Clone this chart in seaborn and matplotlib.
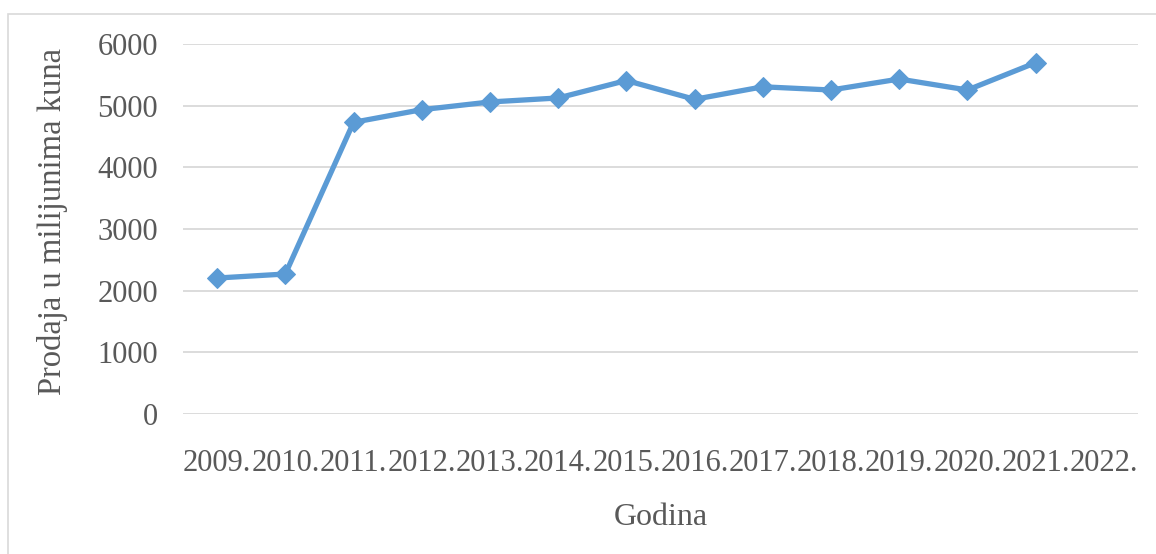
import numpy as np
import matplotlib
matplotlib.use("Agg")
import matplotlib.pyplot as plt
import seaborn as sns
from matplotlib.patches import Rectangle

years = ["2009.", "2010.", "2011.", "2012.", "2013.", "2014.", "2015.",
         "2016.", "2017.", "2018.", "2019.", "2020.", "2021.", "2022."]
sales = [2205, 2270, 4730, 4935, 5060, 5125, 5408, 5103, 5306, 5254, 5432, 5254, 5697]
yticks = [0, 1000, 2000, 3000, 4000, 5000, 6000]

sns.set_theme(style="white")
plt.rcParams['font.family'] = ['Liberation Serif', 'DejaVu Serif']

W, H = 1156, 554
fig = plt.figure(figsize=(W / 100, H / 100), dpi=100)
ax = fig.add_axes([183 / W, 1 - 414 / H, (1138 - 183) / W, (414 - 44) / H])

fig.patches.append(Rectangle((8 / W, -0.1), 1.2, 1 - 14 / H + 0.1, transform=fig.transFigure,
                             fill=False, edgecolor="#D9D9D9", linewidth=1.2))

x = np.arange(len(sales))
sns.lineplot(x=x, y=sales, ax=ax, color="#5B9BD5", linewidth=3.8, marker="D",
             markersize=10, markeredgecolor="#5B9BD5", sort=False)

ax.set_xlim(-0.5, len(years) - 0.5)
ax.set_ylim(0, 6000)
ax.set_xticks(np.arange(len(years)))
ax.set_xticklabels(years)
ax.set_yticks(yticks)
ax.set_yticklabels([str(v) for v in yticks])
for s in ax.spines.values():
    s.set_visible(False)
ax.yaxis.grid(True, color="#D9D9D9", linewidth=1.3)
ax.xaxis.grid(False)
ax.set_axisbelow(True)
ax.tick_params(axis="both", length=0, labelsize=22, labelcolor="#595959")
ax.tick_params(axis="y", pad=18)
ax.tick_params(axis="x", pad=25)

ax.set_xlabel("Godina", fontsize=23, color="#595959")
ax.set_ylabel("Prodaja u milijunima kuna", fontsize=23.5, color="#595959")
ax.xaxis.set_label_coords(0.5, -0.24)
ax.yaxis.set_label_coords(-0.12, 0.52)

fig.savefig("out.png", dpi=100)
